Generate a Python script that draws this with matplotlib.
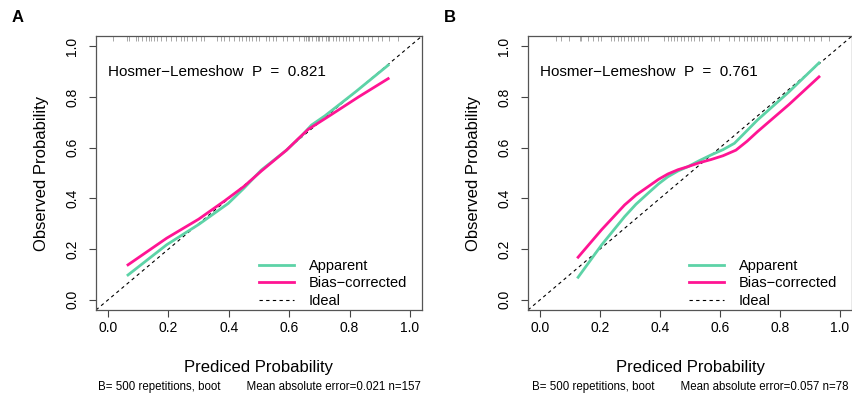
import matplotlib
matplotlib.use("Agg")
import matplotlib.pyplot as plt
from matplotlib.lines import Line2D

plt.rcParams['font.family'] = ['Liberation Sans', 'DejaVu Sans']

# --- panel A ---
a_app_x = [0.066, 0.194, 0.30, 0.398, 0.45, 0.508, 0.591, 0.64, 0.674, 0.718, 0.82, 0.928]
a_app_y = [0.098, 0.217, 0.297, 0.380, 0.44, 0.512, 0.590, 0.645, 0.689, 0.725, 0.82, 0.925]
a_bc_x = [0.066, 0.194, 0.30, 0.387, 0.45, 0.508, 0.591, 0.63, 0.663, 0.729, 0.83, 0.928]
a_bc_y = [0.138, 0.243, 0.318, 0.391, 0.447, 0.508, 0.590, 0.635, 0.672, 0.722, 0.80, 0.872]
a_rug = [0.015, 0.064, 0.07, 0.092, 0.10, 0.114, 0.125, 0.134, 0.141, 0.152,
         0.163, 0.175, 0.191, 0.208, 0.224, 0.241, 0.252, 0.263, 0.279, 0.29,
         0.307, 0.318, 0.362, 0.373, 0.384, 0.401, 0.418, 0.434, 0.445, 0.456,
         0.467, 0.478, 0.489, 0.5, 0.523, 0.534, 0.545, 0.556, 0.578, 0.594,
         0.611, 0.633, 0.65, 0.655, 0.661, 0.666, 0.677, 0.688, 0.694, 0.699,
         0.71, 0.721, 0.727, 0.733, 0.744, 0.755, 0.766, 0.777, 0.788, 0.799,
         0.81, 0.832, 0.843, 0.86, 0.876, 0.893, 0.909, 0.931, 0.959]
a_hl = "0.821"
a_mae = "0.021"
a_n = 157

# --- panel B ---
b_app_x = [0.127, 0.205, 0.282, 0.32, 0.36, 0.395, 0.426, 0.46, 0.493, 0.53,
           0.570, 0.61, 0.648, 0.68, 0.725, 0.83, 0.930]
b_app_y = [0.089, 0.216, 0.328, 0.377, 0.420, 0.457, 0.485, 0.508, 0.525, 0.548,
           0.571, 0.592, 0.617, 0.655, 0.709, 0.82, 0.934]
b_bc_x = [0.127, 0.205, 0.282, 0.32, 0.36, 0.395, 0.426, 0.46, 0.493, 0.53,
          0.570, 0.61, 0.653, 0.69, 0.725, 0.83, 0.930]
b_bc_y = [0.168, 0.276, 0.374, 0.413, 0.446, 0.475, 0.496, 0.513, 0.525, 0.540,
          0.553, 0.568, 0.590, 0.625, 0.663, 0.77, 0.879]
b_rug = [0.054, 0.071, 0.098, 0.132, 0.137, 0.159, 0.176, 0.193, 0.204, 0.237,
         0.248, 0.259, 0.27, 0.281, 0.292, 0.303, 0.314, 0.325, 0.337, 0.348,
         0.359, 0.414, 0.425, 0.436, 0.447, 0.458, 0.469, 0.48, 0.492, 0.503,
         0.514, 0.53, 0.541, 0.569, 0.58, 0.597, 0.63, 0.647, 0.663, 0.68,
         0.691, 0.702, 0.713, 0.724, 0.735, 0.746, 0.757, 0.768, 0.791, 0.813,
         0.824, 0.84, 0.857, 0.879, 0.896, 0.912, 0.935, 0.962]
b_hl = "0.761"
b_mae = "0.057"
b_n = 78

ticks = [0.0, 0.2, 0.4, 0.6, 0.8, 1.0]
green = "#5DD3A7"
pink = "#FF1493"

W, H = 852, 396
fig = plt.figure(figsize=(W / 100, H / 100), dpi=100)


def panneau(rect, lettre, app_x, app_y, bc_x, bc_y, rug, hl, mae, n):
    left, right, top, bottom = rect
    ax = fig.add_axes([left / W, 1 - bottom / H, (right - left) / W, (bottom - top) / H])
    ax.set_xlim(-0.04, 1.04)
    ax.set_ylim(-0.04, 1.04)

    ax.vlines(rug, 0.982, 1.0, transform=ax.get_xaxis_transform(),
              color="#999999", lw=0.6)
    ax.axline((0, 0), (1, 1), color="black", lw=0.8, ls=(0, (3, 3)))
    ax.plot(app_x, app_y, color=green, lw=2, solid_joinstyle="round")
    ax.plot(bc_x, bc_y, color=pink, lw=2, solid_joinstyle="round")

    ax.text(0.0, 0.9, f"Hosmer\u2212Lemeshow  P  =  {hl}", fontsize=11,
            ha="left", va="center")

    handles = [Line2D([], [], color=green, lw=2, label="Apparent"),
               Line2D([], [], color=pink, lw=2, label="Bias\u2212corrected"),
               Line2D([], [], color="black", lw=0.8, ls=(0, (3, 3)), label="Ideal")]
    ax.legend(handles=handles, loc="lower right", bbox_to_anchor=(0.985, -0.03),
              frameon=False, fontsize=10.5, handlelength=2.4, handletextpad=1.0,
              labelspacing=0.25, borderpad=0.2)

    ax.set_xticks(ticks)
    ax.set_yticks(ticks)
    ax.set_xticklabels([f"{t:.1f}" for t in ticks])
    ax.set_yticklabels([f"{t:.1f}" for t in ticks], rotation=90, va="center")
    ax.tick_params(labelsize=10, length=5, width=0.8, color="#444444", pad=3)
    ax.tick_params(axis="y", pad=7)
    for s in ax.spines.values():
        s.set_color("#555555")
        s.set_linewidth(0.9)

    ax.set_xlabel("Prediced Probability", fontsize=12, labelpad=18)
    ax.set_ylabel("Observed Probability", fontsize=12, labelpad=12)

    cx = (left + right) / 2 / W
    fig.text(cx, 1 - 387 / H,
             f"B= 500 repetitions, boot        Mean absolute error={mae} n={n}",
             fontsize=8.3, ha="center", va="center")
    fig.text((left - 78) / W, 1 - 18 / H, lettre, fontsize=12, fontweight="bold",
             ha="center", va="center")
    return ax


panneau((96, 422, 36, 310), "A", a_app_x, a_app_y, a_bc_x, a_bc_y, a_rug, a_hl, a_mae, a_n)
panneau((528, 852, 36, 310), "B", b_app_x, b_app_y, b_bc_x, b_bc_y, b_rug, b_hl, b_mae, b_n)

fig.savefig("out.png", dpi=100)
